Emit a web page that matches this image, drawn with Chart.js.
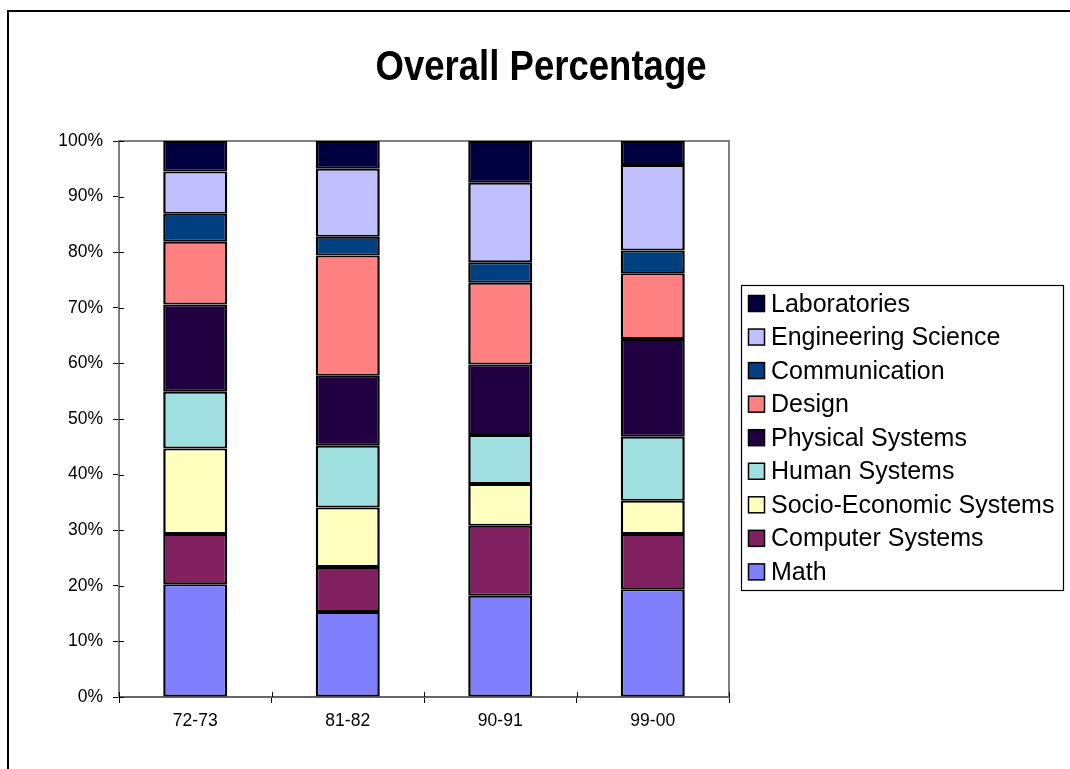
<!DOCTYPE html>
<html>
<head>
<meta charset="utf-8">
<title>Overall Percentage</title>
<script src="https://cdn.jsdelivr.net/npm/chart.js@4.4.1/dist/chart.umd.min.js"></script>
<style>
  html, body { margin: 0; padding: 0; background: #ffffff; }
  canvas { display: block; }
</style>
</head>
<body>
<canvas id="chart" width="1070" height="769"></canvas>
<script>
// Academic years on the x axis
const categories = ['72-73', '81-82', '90-91', '99-00'];

// Share of the curriculum (%) per subject area, bottom of the stack first
const math               = [20.3, 15.3, 18.2, 19.4];
const computerSystems    = [9.0, 8.1, 12.6, 9.9];
const socioEconomic      = [15.4, 10.7, 7.5, 6.0];
const humanSystems       = [10.2, 11.1, 8.8, 11.5];
const physicalSystems    = [15.7, 12.6, 12.7, 17.6];
const design             = [11.3, 21.6, 14.7, 11.8];
const communication      = [5.0, 3.4, 3.7, 4.1];
const engineeringScience = [7.6, 12.2, 14.3, 15.4];
const laboratories       = [5.5, 5.0, 7.5, 4.3];

const yTickValues = [0, 10, 20, 30, 40, 50, 60, 70, 80, 90, 100];

const chartTitle = 'Overall Percentage';

const series = [
  { label: 'Math',                    data: math,               color: '#8080ff' },
  { label: 'Computer Systems',        data: computerSystems,    color: '#802060' },
  { label: 'Socio-Economic Systems',  data: socioEconomic,      color: '#ffffc0' },
  { label: 'Human Systems',           data: humanSystems,       color: '#a0e0e0' },
  { label: 'Physical Systems',        data: physicalSystems,    color: '#200040' },
  { label: 'Design',                  data: design,             color: '#ff8080' },
  { label: 'Communication',           data: communication,      color: '#004080' },
  { label: 'Engineering Science',     data: engineeringScience, color: '#c0c0ff' },
  { label: 'Laboratories',            data: laboratories,       color: '#000040' }
];

const FONT = '"Liberation Sans", Arial, Helvetica, sans-serif';

// Page frame, plot frame, crossing tick marks, title and boxed legend
const decorations = {
  id: 'decorations',
  beforeDraw(chart) {
    const ctx = chart.ctx;
    ctx.save();
    ctx.strokeStyle = '#000000';
    ctx.lineWidth = 2;
    ctx.beginPath();
    ctx.moveTo(8, chart.height + 2);
    ctx.lineTo(8, 11);
    ctx.lineTo(chart.width + 2, 11);
    ctx.stroke();
    ctx.restore();
  },
  beforeDatasetsDraw(chart) {
    const { ctx, chartArea: a } = chart;
    ctx.save();
    ctx.strokeStyle = '#808080';
    ctx.lineWidth = 2;
    ctx.beginPath();
    ctx.moveTo(a.left, a.top);
    ctx.lineTo(a.right, a.top);
    ctx.lineTo(a.right, a.bottom);
    ctx.stroke();
    ctx.restore();
  },
  afterDraw(chart) {
    const { ctx, chartArea: a, scales } = chart;
    ctx.save();

    // inner halves of the tick marks
    ctx.strokeStyle = '#000000';
    ctx.lineWidth = 1;
    ctx.beginPath();
    scales.y.ticks.forEach((t, i) => {
      const py = Math.round(scales.y.getPixelForTick(i)) + 0.5;
      ctx.moveTo(a.left, py);
      ctx.lineTo(a.left + 5, py);
    });
    const step = (scales.x.right - scales.x.left) / categories.length;
    for (let i = 0; i <= categories.length; i++) {
      const px = Math.round(scales.x.left + i * step) + 0.5;
      ctx.moveTo(px, a.bottom);
      ctx.lineTo(px, a.bottom - 5);
    }
    ctx.stroke();

    // title
    ctx.fillStyle = '#000000';
    ctx.font = 'bold 42px ' + FONT;
    ctx.textAlign = 'center';
    ctx.textBaseline = 'alphabetic';
    ctx.translate(541, 80);
    ctx.scale(0.87, 1);
    ctx.fillText(chartTitle, 0, 0);
    ctx.setTransform(1, 0, 0, 1, 0, 0);

    // legend, top entry is the top of the stack
    const left = a.right + 12.5;
    const top = 285.5;
    const width = 322;
    const height = 305;
    ctx.fillStyle = '#ffffff';
    ctx.fillRect(left, top, width, height);
    ctx.strokeStyle = '#000000';
    ctx.lineWidth = 1.2;
    ctx.strokeRect(left, top, width, height);

    ctx.font = '25px ' + FONT;
    ctx.textAlign = 'left';
    ctx.textBaseline = 'alphabetic';
    const items = chart.data.datasets.slice().reverse();
    items.forEach((ds, i) => {
      const base = top + 26 + i * 33.55;
      ctx.fillStyle = ds.backgroundColor;
      ctx.fillRect(left + 7, base - 16, 16, 16);
      ctx.lineWidth = 1.5;
      ctx.strokeStyle = '#000000';
      ctx.strokeRect(left + 7, base - 16, 16, 16);
      ctx.fillStyle = '#000000';
      ctx.fillText(ds.label, left + 29.5, base);
    });
    ctx.restore();
  }
};

new Chart(document.getElementById('chart'), {
  type: 'bar',
  data: {
    labels: categories,
    datasets: series.map(s => ({
      label: s.label,
      data: s.data,
      backgroundColor: s.color,
      borderColor: '#000000',
      borderWidth: { top: 2, bottom: 2, left: 2.5, right: 2.5 },
      borderSkipped: false,
      inflateAmount: 0,
      categoryPercentage: 1,
      barPercentage: 0.42
    }))
  },
  options: {
    responsive: false,
    devicePixelRatio: 1,
    animation: false,
    layout: { padding: { top: 141, left: 0, right: 341, bottom: 32 } },
    plugins: {
      legend: { display: false },
      title: { display: false },
      tooltip: { enabled: false }
    },
    scales: {
      x: {
        stacked: true,
        afterFit(scale) { scale.height = 40; },
        grid: {
          offset: true,
          drawOnChartArea: false,
          drawTicks: true,
          tickLength: 6,
          tickColor: '#000000',
          tickWidth: 1
        },
        border: { display: true, color: '#666666', width: 2 },
        ticks: {
          color: '#000000',
          padding: 8,
          font: { family: FONT, size: 17.5 }
        }
      },
      y: {
        stacked: true,
        min: 0,
        max: 100,
        afterFit(scale) { scale.width = 119; },
        afterBuildTicks(scale) {
          scale.ticks = yTickValues.map(v => ({ value: v }));
        },
        grid: {
          drawOnChartArea: false,
          drawTicks: true,
          tickLength: 6,
          tickColor: '#000000',
          tickWidth: 1
        },
        border: { display: true, color: '#808080', width: 2 },
        ticks: {
          color: '#000000',
          padding: 10,
          font: { family: FONT, size: 17.5 },
          callback: v => v + '%'
        }
      }
    }
  },
  plugins: [decorations]
});
</script>
</body>
</html>
